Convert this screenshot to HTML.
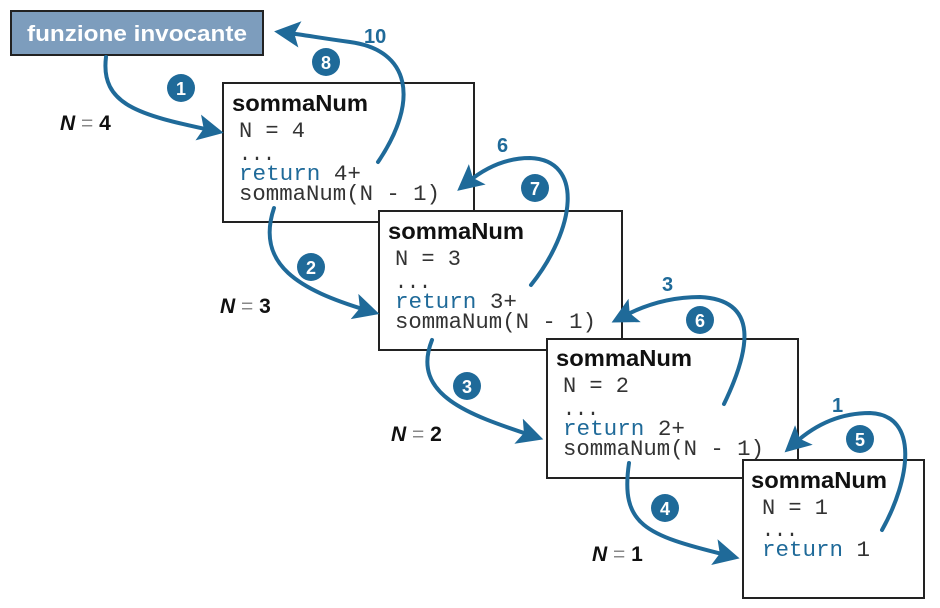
<!DOCTYPE html>
<html><head><meta charset="utf-8"><style>
html,body{margin:0;padding:0;background:#fff}
svg{display:block}
.t{font-family:"Liberation Sans",sans-serif;font-size:23px;font-weight:bold;fill:#111}
.m{font-family:"Liberation Mono",monospace;font-size:22px;fill:#333}
.r{fill:#1f6a99}
.lab{font-family:"Liberation Sans",sans-serif;font-weight:bold;font-size:21px;fill:#111}
.num{font-family:"Liberation Sans",sans-serif;font-weight:bold;font-size:20px;fill:#1f6a99}
.cn{font-family:"Liberation Sans",sans-serif;font-weight:bold;font-size:18px;fill:#fff}
path.a{fill:none;stroke:#1f6a99;stroke-width:4;stroke-linecap:round}
</style></head><body>
<svg width="940" height="608" viewBox="0 0 940 608" xmlns="http://www.w3.org/2000/svg">
<defs><marker id="ah" markerWidth="7" markerHeight="7" refX="3" refY="3.5" orient="auto" markerUnits="strokeWidth"><path d="M0,0.2 L6.5,3.5 L0,6.8 L1.4,3.5 Z" fill="#1f6a99"/></marker></defs>

<rect x="11" y="11" width="252" height="44" fill="#7d9dbd" stroke="#222" stroke-width="2"/>
<text x="27" y="41" font-family="Liberation Sans,sans-serif" font-weight="bold" font-size="22" fill="#fff" textLength="220" lengthAdjust="spacingAndGlyphs">funzione invocante</text>

<g>
<rect x="223" y="83" width="251" height="139" fill="#fff" stroke="#222" stroke-width="2"/>
<text class="t" x="232" y="111" textLength="136" lengthAdjust="spacingAndGlyphs">sommaNum</text>
<text class="m" x="239" y="137" textLength="66" lengthAdjust="spacingAndGlyphs">N = 4</text>
<text class="m" x="239" y="160" textLength="36" lengthAdjust="spacingAndGlyphs">...</text>
<text class="m" x="239" y="180" textLength="122" lengthAdjust="spacingAndGlyphs"><tspan class="r">return</tspan> 4+</text>
<text class="m" x="239" y="200" textLength="201" lengthAdjust="spacingAndGlyphs">sommaNum(N - 1)</text>
</g>
<g>
<rect x="379" y="211" width="243" height="139" fill="#fff" stroke="#222" stroke-width="2"/>
<text class="t" x="388" y="239" textLength="136" lengthAdjust="spacingAndGlyphs">sommaNum</text>
<text class="m" x="395" y="265" textLength="66" lengthAdjust="spacingAndGlyphs">N = 3</text>
<text class="m" x="395" y="288" textLength="36" lengthAdjust="spacingAndGlyphs">...</text>
<text class="m" x="395" y="308" textLength="122" lengthAdjust="spacingAndGlyphs"><tspan class="r">return</tspan> 3+</text>
<text class="m" x="395" y="328" textLength="201" lengthAdjust="spacingAndGlyphs">sommaNum(N - 1)</text>
</g>
<g>
<rect x="547" y="339" width="251" height="139" fill="#fff" stroke="#222" stroke-width="2"/>
<text class="t" x="556" y="366" textLength="136" lengthAdjust="spacingAndGlyphs">sommaNum</text>
<text class="m" x="563" y="392" textLength="66" lengthAdjust="spacingAndGlyphs">N = 2</text>
<text class="m" x="563" y="415" textLength="36" lengthAdjust="spacingAndGlyphs">...</text>
<text class="m" x="563" y="435" textLength="122" lengthAdjust="spacingAndGlyphs"><tspan class="r">return</tspan> 2+</text>
<text class="m" x="563" y="455" textLength="201" lengthAdjust="spacingAndGlyphs">sommaNum(N - 1)</text>
</g>
<g>
<rect x="743" y="460" width="181" height="138" fill="#fff" stroke="#222" stroke-width="2"/>
<text class="t" x="751" y="488" textLength="136" lengthAdjust="spacingAndGlyphs">sommaNum</text>
<text class="m" x="762" y="514" textLength="66" lengthAdjust="spacingAndGlyphs">N = 1</text>
<text class="m" x="762" y="536" textLength="36" lengthAdjust="spacingAndGlyphs">...</text>
<text class="m" x="762" y="556" textLength="108" lengthAdjust="spacingAndGlyphs"><tspan class="r">return</tspan> 1</text>
</g>

<path class="a" marker-end="url(#ah)" d="M106,57 C100,105 140,115 210,130"/>
<path class="a" marker-end="url(#ah)" d="M378,162 C420,100 410,50 350,42 C320,38 305,35 288,33"/>
<path class="a" marker-end="url(#ah)" d="M274,208 C255,265 300,290 366,310"/>
<path class="a" marker-end="url(#ah)" d="M531,285 C575,230 585,160 530,158 C505,158 485,168 468,182"/>
<path class="a" marker-end="url(#ah)" d="M432,340 C410,395 470,415 530,435"/>
<path class="a" marker-end="url(#ah)" d="M724,404 C750,350 760,300 700,297 C670,297 645,305 624,316"/>
<path class="a" marker-end="url(#ah)" d="M629,463 C620,525 645,535 726,555"/>
<path class="a" marker-end="url(#ah)" d="M882,530 C910,480 920,415 870,413 C840,413 815,425 795,443"/>

<g><circle cx="181" cy="88" r="14" fill="#1f6a99"/><text class="cn" x="181" y="95" text-anchor="middle">1</text></g>
<g><circle cx="326" cy="62" r="14" fill="#1f6a99"/><text class="cn" x="326" y="69" text-anchor="middle">8</text></g>
<g><circle cx="311" cy="267" r="14" fill="#1f6a99"/><text class="cn" x="311" y="274" text-anchor="middle">2</text></g>
<g><circle cx="535" cy="188" r="14" fill="#1f6a99"/><text class="cn" x="535" y="195" text-anchor="middle">7</text></g>
<g><circle cx="467" cy="386" r="14" fill="#1f6a99"/><text class="cn" x="467" y="393" text-anchor="middle">3</text></g>
<g><circle cx="700" cy="320" r="14" fill="#1f6a99"/><text class="cn" x="700" y="327" text-anchor="middle">6</text></g>
<g><circle cx="665" cy="508" r="14" fill="#1f6a99"/><text class="cn" x="665" y="515" text-anchor="middle">4</text></g>
<g><circle cx="860" cy="439" r="14" fill="#1f6a99"/><text class="cn" x="860" y="446" text-anchor="middle">5</text></g>

<text class="num" x="364" y="43">10</text>
<text class="num" x="497" y="152">6</text>
<text class="num" x="662" y="291">3</text>
<text class="num" x="832" y="412">1</text>

<text class="lab" x="60" y="130"><tspan font-style="italic">N</tspan><tspan font-weight="normal" fill="#888"> = </tspan>4</text>
<text class="lab" x="220" y="313"><tspan font-style="italic">N</tspan><tspan font-weight="normal" fill="#888"> = </tspan>3</text>
<text class="lab" x="391" y="441"><tspan font-style="italic">N</tspan><tspan font-weight="normal" fill="#888"> = </tspan>2</text>
<text class="lab" x="592" y="561"><tspan font-style="italic">N</tspan><tspan font-weight="normal" fill="#888"> = </tspan>1</text>
</svg>
</body></html>
